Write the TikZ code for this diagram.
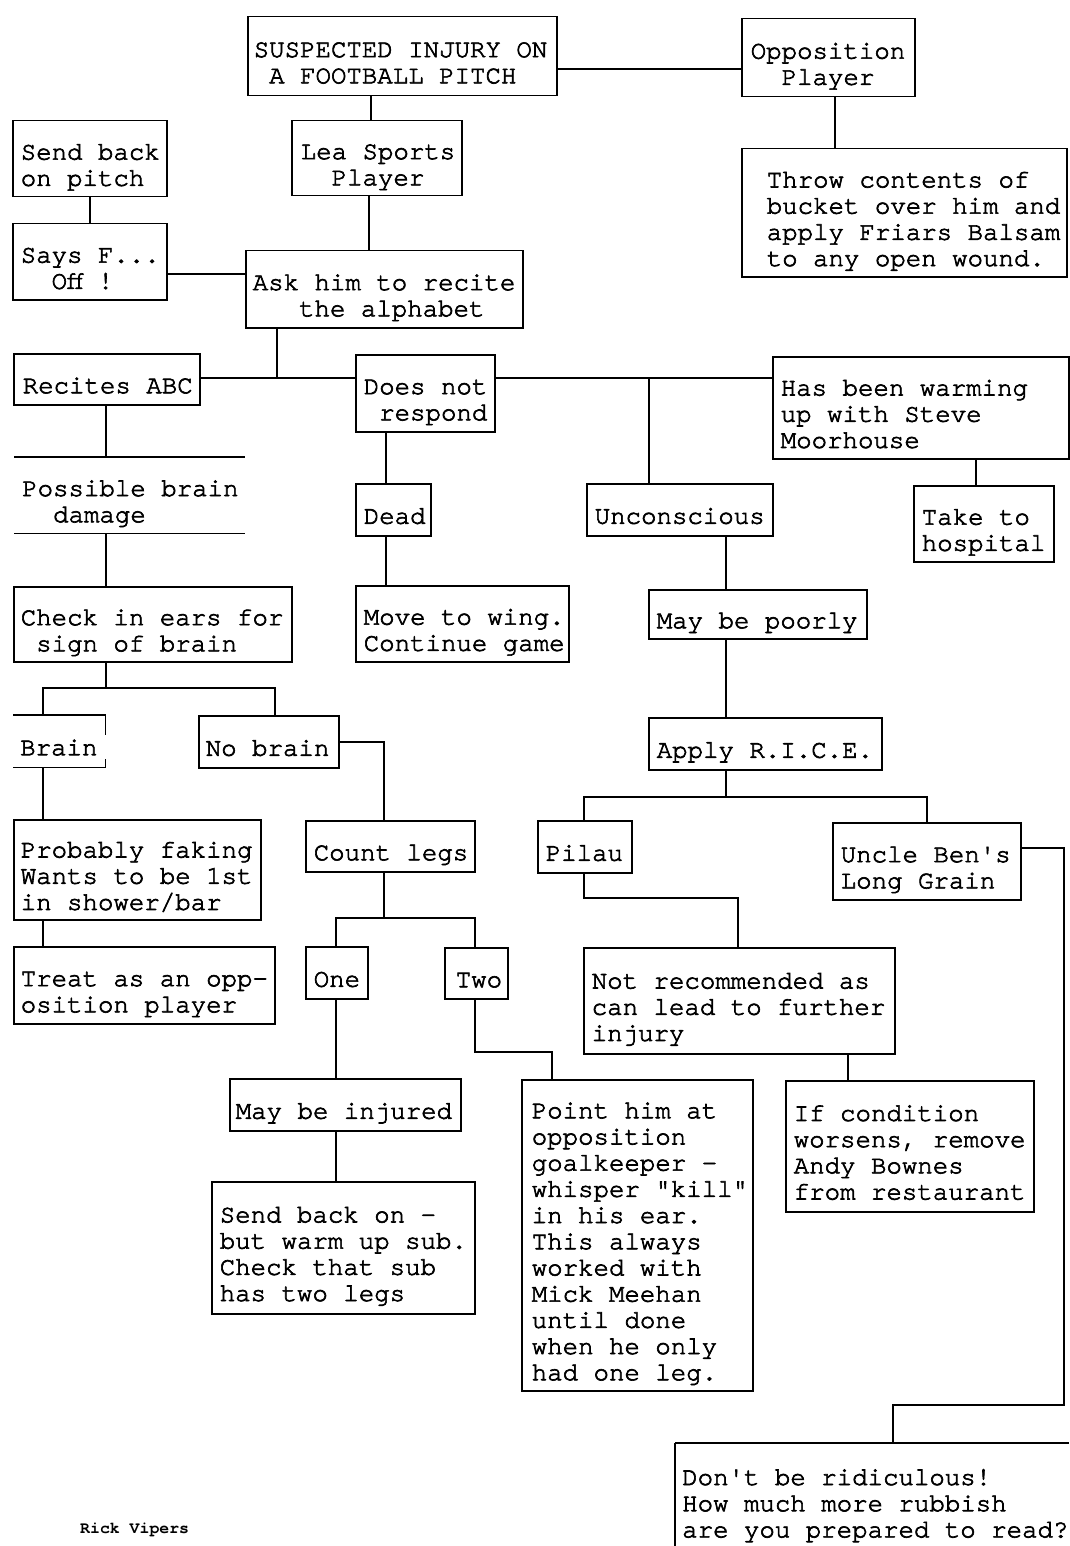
\documentclass[tikz,border=0pt]{standalone}
\usepackage{fontspec}
\newfontfamily\cour{texgyrecursor-regular.otf}[BoldFont=texgyrecursor-bold.otf, UprightFeatures={FakeBold=2.5}]
\usetikzlibrary{calc}
\newcommand\monofont{\cour\fontsize{25.75}{26.2}\selectfont\spaceskip=15.45pt\xspaceskip=15.45pt}
\newcommand\smallmono{\cour\bfseries\fontsize{16.5}{18}\selectfont}
\begin{document}
\frenchspacing
\begin{tikzpicture}[x=1pt,y=-1pt,
  every node/.style={font=\monofont},
  bx/.style={draw, line width=1.5pt, inner sep=0pt, anchor=north west,
    execute at begin node={\spaceskip=15.45pt\xspaceskip=15.45pt\rule{0pt}{34pt}}, execute at end node={\rule[-6pt]{0pt}{6pt}}},
  nb/.style={inner sep=0pt, anchor=north west,
    execute at begin node={\spaceskip=15.45pt\xspaceskip=15.45pt\rule{0pt}{34pt}}, execute at end node={\rule[-6pt]{0pt}{6pt}}},
  ln/.style={line width=1.5pt}]
\fill[white] (0,0) rectangle (1069,1546);
\useasboundingbox (0,0) rectangle (1069,1546);

% boxes
\node[bx, minimum width=309pt, minimum height=79pt, text width=297pt] (suspected) at (247,16) {\mbox{SUSPECTED INJURY ON}\\\mbox{\ A FOOTBALL PITCH}};
\node[bx, minimum width=173pt, minimum height=78pt, text width=155pt] (opposition) at (741,18) {\mbox{Opposition}\\\mbox{\ \ Player}};
\node[bx, minimum width=325pt, minimum height=128pt, text width=275pt] (throw) at (741,148) {\mbox{Throw contents of}\\\mbox{bucket over him and}\\\mbox{apply Friars Balsam}\\\mbox{to any open wound.}};
\node[bx, minimum width=154pt, minimum height=76pt, text width=138pt] (sendback) at (12,120) {\mbox{Send back}\\\mbox{on pitch}};
\node[bx, minimum width=170pt, minimum height=75pt, text width=152pt] (lea) at (291,120) {\mbox{Lea Sports}\\\mbox{\ \ Player}};
\node[bx, minimum width=154pt, minimum height=76pt, text width=138pt] (says) at (12,223) {\mbox{Says F...}\\\mbox{\ \ Off !}};
\node[bx, minimum width=277pt, minimum height=77pt, text width=263pt] (ask) at (245,250) {\mbox{Ask him to recite}\\\mbox{\ \ \ the alphabet}};
\node[bx, minimum width=186pt, minimum height=51pt, text width=168pt] (recites) at (13,353) {\mbox{Recites ABC}};
\node[bx, minimum width=139pt, minimum height=77pt, text width=123pt] (doesnot) at (355,354) {\mbox{Does not}\\\mbox{\ respond}};
\node[bx, minimum width=296pt, minimum height=102pt, text width=280pt] (hasbeen) at (772,356) {\mbox{Has been warming}\\\mbox{up with Steve}\\\mbox{Moorhouse}};
\node[nb, minimum width=231pt, minimum height=76pt, text width=215pt] (possible) at (14,457) {\mbox{Possible brain}\\\mbox{\ \ damage}};
\node[bx, minimum width=75pt, minimum height=52pt, text width=59pt] (dead) at (355,483) {\mbox{Dead}};
\node[bx, minimum width=186pt, minimum height=52pt, text width=170pt] (unconscious) at (586,483) {\mbox{Unconscious}};
\node[bx, minimum width=140pt, minimum height=76pt, text width=124pt] (takehosp) at (913,485) {\mbox{Take to}\\\mbox{hospital}};
\node[bx, minimum width=278pt, minimum height=75pt, text width=264pt] (check) at (13,586) {\mbox{Check in ears for}\\\mbox{\ sign of brain}};
\node[bx, minimum width=213pt, minimum height=76pt, text width=197pt] (move) at (355,585) {\mbox{Move to wing.}\\\mbox{Continue game}};
\node[bx, minimum width=218pt, minimum height=49pt, text width=202pt] (maybepoorly) at (648,589) {\mbox{May be poorly}};
\node[nb, minimum width=92pt, minimum height=52pt, text width=78pt] (brain) at (13,715) {\mbox{Brain}};
\node[bx, minimum width=140pt, minimum height=52pt, text width=126pt] (nobrain) at (198,715) {\mbox{No brain}};
\node[bx, minimum width=233pt, minimum height=52pt, text width=217pt] (apply) at (648,717) {\mbox{Apply R.I.C.E.}};
\node[bx, minimum width=247pt, minimum height=100pt, text width=233pt] (probably) at (13,819) {\mbox{Probably faking}\\\mbox{Wants to be 1st}\\\mbox{in shower/bar}};
\node[bx, minimum width=169pt, minimum height=51pt, text width=153pt] (countlegs) at (305,820) {\mbox{Count legs}};
\node[bx, minimum width=94pt, minimum height=52pt, text width=78pt] (pilau) at (537,820) {\mbox{Pilau}};
\node[bx, minimum width=188pt, minimum height=77pt, text width=172pt] (uncle) at (832,822) {\mbox{Uncle Ben's}\\\mbox{Long Grain}};
\node[bx, minimum width=261pt, minimum height=77pt, text width=247pt] (treat) at (13,946) {\mbox{Treat as an opp-}\\\mbox{osition player}};
\node[bx, minimum width=62pt, minimum height=52pt, text width=46pt] (one) at (305,946) {\mbox{One}};
\node[bx, minimum width=63pt, minimum height=51pt, text width=41pt] (two) at (444,947) {\mbox{Two}};
\node[bx, minimum width=311pt, minimum height=106pt, text width=295pt] (notrec) at (583,947) {\mbox{Not recommended as}\\\mbox{can lead to further}\\\mbox{injury}};
\node[bx, minimum width=231pt, minimum height=52pt, text width=219pt] (maybeinj) at (229,1078) {\mbox{May be injured}};
\node[bx, minimum width=231pt, minimum height=311pt, text width=211pt] (point) at (521,1079) {\mbox{Point him at}\\\mbox{opposition}\\\mbox{goalkeeper -}\\\mbox{whisper "kill"}\\\mbox{in his ear.}\\\mbox{This always}\\\mbox{worked with}\\\mbox{Mick Meehan}\\\mbox{until done}\\\mbox{when he only}\\\mbox{had one leg.}};
\node[bx, minimum width=248pt, minimum height=131pt, text width=232pt] (ifcond) at (785,1080) {\mbox{If condition}\\\mbox{worsens, remove}\\\mbox{Andy Bownes}\\\mbox{from restaurant}};
\node[bx, minimum width=263pt, minimum height=132pt, text width=247pt] (sendon) at (211,1181) {\mbox{Send back on -}\\\mbox{but warm up sub.}\\\mbox{Check that sub}\\\mbox{has two legs}};
\node[nb, minimum width=394pt, minimum height=108pt, text width=380pt] (dontbe) at (675,1443) {\mbox{Don't be ridiculous!}\\\mbox{How much more rubbish}\\\mbox{are you prepared to read?}};
\node[inner sep=0pt, anchor=base west, font=\smallmono] (rick) at (80,1533) {Rick Vipers};

% partial borders
\draw[ln] (possible.north west) -- (possible.north east);
\draw[ln] (possible.south west) -- (possible.south east);
\draw[ln] (brain.north west) -- (brain.north east) -- ++(0,20);
\draw[ln] (brain.south west) -- (brain.south east) -- ++(0,-8);
\draw[ln] (dontbe.north west) -- (dontbe.north east);
\draw[ln] (dontbe.north west) -- ++(0,110);

% helper coordinates
\coordinate (c1) at (0,69);
\coordinate (c2) at (835,0);
\coordinate (c3) at (371,0);
\coordinate (c4) at (0,274);
\coordinate (c5) at (369,0);
\coordinate (j1) at (277,378);
\coordinate (j4) at (649,378);
\coordinate (c6) at (106,0);
\coordinate (c7) at (386,0);
\coordinate (c8) at (976,0);
\coordinate (c9) at (726,0);
\coordinate (j2) at (106,688);
\coordinate (c10) at (43,0);
\coordinate (c11) at (275,0);
\coordinate (c12) at (384,0);
\coordinate (j3) at (384,918);
\coordinate (c13) at (336,0);
\coordinate (c14) at (475,0);
\coordinate (b1) at (552,1052);
\coordinate (b2) at (726,797);
\coordinate (c15) at (584,0);
\coordinate (c16) at (927,0);
\coordinate (b3) at (738,898);
\coordinate (c17) at (848,0);
\coordinate (c18) at (0,848);
\coordinate (b4) at (1064,1405);
\coordinate (c19) at (893,0);

% connectors
\draw[ln] (suspected.east |- c1) -- (opposition.west |- c1);
\draw[ln] (opposition.south -| c2) -- (throw.north -| c2);
\draw[ln] (suspected.south -| c3) -- (lea.north -| c3);
\draw[ln] (sendback.south) -- (says.north);
\draw[ln] (says.east |- c4) -- (ask.west |- c4);
\draw[ln] (lea.south -| c5) -- (ask.north -| c5);
\draw[ln] (ask.south -| j1) -- (j1);
\draw[ln] (recites.east |- j1) -- (doesnot.west |- j1);
\draw[ln] (doesnot.east |- j1) -- (hasbeen.west |- j1);
\draw[ln] (j4) -- (unconscious.north -| j4);
\draw[ln] (recites.south -| c6) -- (possible.north -| c6);
\draw[ln] (possible.south -| c6) -- (check.north -| c6);
\draw[ln] (doesnot.south -| c7) -- (dead.north -| c7);
\draw[ln] (dead.south -| c7) -- (move.north -| c7);
\draw[ln] (hasbeen.south -| c8) -- (takehosp.north -| c8);
\draw[ln] (unconscious.south -| c9) -- (maybepoorly.north -| c9);
\draw[ln] (maybepoorly.south -| c9) -- (apply.north -| c9);
\draw[ln] (check.south -| j2) -- (j2);
\draw[ln] (brain.north -| c10) |- (j2) -| (nobrain.north -| c11);
\draw[ln] (brain.south -| c10) -- (probably.north -| c10);
\draw[ln] (probably.south -| c10) -- (treat.north -| c10);
\draw[ln] (nobrain.east) -| (countlegs.north -| c12);
\draw[ln] (countlegs.south -| j3) -- (j3);
\draw[ln] (one.north -| c13) |- (j3) -| (two.north -| c14);
\draw[ln] (one.south -| c13) -- (maybeinj.north -| c13);
\draw[ln] (maybeinj.south -| c13) -- (sendon.north -| c13);
\draw[ln] (two.south -| c14) |- (b1) -- (point.north -| b1);
\draw[ln] (apply.south -| b2) -- (b2);
\draw[ln] (pilau.north -| c15) |- (b2) -| (uncle.north -| c16);
\draw[ln] (pilau.south -| c15) |- (b3) -- (notrec.north -| b3);
\draw[ln] (notrec.south -| c17) -- (ifcond.north -| c17);
\draw[ln] (uncle.east |- c18) -| (b4) -| (dontbe.north -| c19);
\end{tikzpicture}
\end{document}
